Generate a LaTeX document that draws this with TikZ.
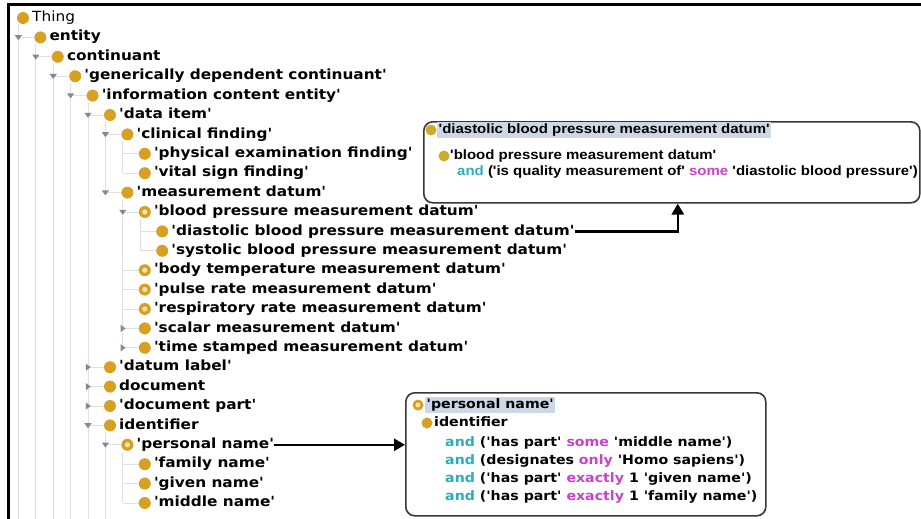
\documentclass[tikz,border=0pt]{standalone}
\usepackage{fontspec}
\setmainfont{DejaVu Sans}
\newfontfamily\treebf[FakeStretch=1.095,Ligatures=TeXOff]{DejaVu Sans Bold}
\newfontfamily\treerm[FakeStretch=1.095,Ligatures=TeXOff]{DejaVu Sans}
\newfontfamily\notebf[FakeStretch=1.09,Ligatures=TeXOff]{DejaVu Sans Bold}
\newfontfamily\noteA[FakeStretch=1.11,Ligatures=TeXOff]{Liberation Sans Bold}
\usetikzlibrary{arrows.meta,calc}

\definecolor{ballgold}{RGB}{216,160,32}
\definecolor{ballolive}{RGB}{204,172,44}
\definecolor{ballpale}{RGB}{246,230,175}
\definecolor{handlecol}{RGB}{125,138,155}
\definecolor{guidecol}{RGB}{224,224,224}
\definecolor{kwand}{RGB}{45,172,190}
\definecolor{kwrestr}{RGB}{198,68,200}
\definecolor{selbg}{RGB}{206,215,230}
\definecolor{boxline}{RGB}{55,55,55}

\tikzset{
  treetext/.style={anchor=west, inner sep=0pt, font=\treebf\fontsize{14}{16}\selectfont,
    text height=10.4pt, text depth=3.2pt},
  notetext/.style={anchor=west, inner sep=0pt, font=\noteA\fontsize{13.5}{15}\selectfont,
    text height=9.8pt, text depth=2.9pt},
  note2text/.style={anchor=west, inner sep=0pt, font=\notebf\fontsize{13}{15}\selectfont,
    text height=9.6pt, text depth=2.9pt},
  guide/.style={draw=guidecol, line width=1pt},
  callout/.style={draw=boxline, line width=1.6pt, fill=white, rounded corners=9pt,
    inner sep=0pt, anchor=north west},
  selected/.style={fill=selbg, inner xsep=1.5pt, inner ysep=2pt},
  arrowline/.style={line width=2.6pt, -{Triangle[length=11pt,width=12pt]}},
}

% one row of the class tree: row, level, handle, icon, label
\newcommand\treeitem[5]{%
  \pgfmathsetmacro\tx{32+17.4*#2}%
  \pgfmathsetmacro\ty{-(18+19.4*#1)}%
  \pgfmathsetmacro\hx{\tx-31}%
  \pgfmathsetmacro\ix{\tx-9}%
  \ifnum#2>0 \draw[guide] (\hx,\ty) -- (\tx-15,\ty);\fi
  #3#4%
  \node[treetext] (n#1) at (\tx,\ty) {#5};
}
\newcommand\hdown{\fill[handlecol] (\hx-3.6,\ty+2.2) -- (\hx+3.6,\ty+2.2) -- (\hx,\ty-2.8) -- cycle;}
\newcommand\hright{\fill[handlecol] (\hx-2.2,\ty+3.6) -- (\hx-2.2,\ty-3.6) -- (\hx+2.8,\ty) -- cycle;}
\newcommand\hnone{}
\newcommand\iplain{\fill[ballgold] (\ix,\ty) circle (6pt);}
\newcommand\idef{\fill[ballgold] (\ix,\ty) circle (6pt); \fill[ballpale] (\ix,\ty) circle (2.6pt);}
\newcommand\rowpos[1]{-(18+19.4*#1)}

\begin{document}
\begin{tikzpicture}[x=1pt,y=1pt]
\useasboundingbox (0,0) rectangle (921,-519);
\fill[white] (0,0) rectangle (921,-519);

% vertical guide lines of the tree
\foreach \lv/\ra/\rb in {0/0/27, 1/1/27, 2/2/27, 3/3/27, 4/4/27, 5/5/9, 6/6/8, 6/9/17, 7/10/12, 5/21/27, 6/22/25}{
  \pgfmathsetmacro\gx{18.4+17.4*\lv}
  \draw[guide] (\gx,{\rowpos{\ra}-7}) -- (\gx,{\rowpos{\rb}});
}

% class hierarchy
\treeitem{0}{0}{\hnone}{\iplain}{{\treerm Thing}}
\treeitem{1}{1}{\hdown}{\iplain}{entity}
\treeitem{2}{2}{\hdown}{\iplain}{continuant}
\treeitem{3}{3}{\hdown}{\iplain}{'generically dependent continuant'}
\treeitem{4}{4}{\hdown}{\iplain}{'information content entity'}
\treeitem{5}{5}{\hdown}{\iplain}{'data item'}
\treeitem{6}{6}{\hdown}{\iplain}{'clinical finding'}
\treeitem{7}{7}{\hnone}{\iplain}{'physical examination finding'}
\treeitem{8}{7}{\hnone}{\iplain}{'vital sign finding'}
\treeitem{9}{6}{\hdown}{\iplain}{'measurement datum'}
\treeitem{10}{7}{\hdown}{\idef}{'blood pressure measurement datum'}
\treeitem{11}{8}{\hnone}{\iplain}{'diastolic blood pressure measurement datum'}
\treeitem{12}{8}{\hnone}{\iplain}{'systolic blood pressure measurement datum'}
\treeitem{13}{7}{\hnone}{\idef}{'body temperature measurement datum'}
\treeitem{14}{7}{\hnone}{\idef}{'pulse rate measurement datum'}
\treeitem{15}{7}{\hnone}{\idef}{'respiratory rate measurement datum'}
\treeitem{16}{7}{\hright}{\iplain}{'scalar measurement datum'}
\treeitem{17}{7}{\hright}{\iplain}{'time stamped measurement datum'}
\treeitem{18}{5}{\hright}{\iplain}{'datum label'}
\treeitem{19}{5}{\hright}{\iplain}{document}
\treeitem{20}{5}{\hright}{\iplain}{'document part'}
\treeitem{21}{5}{\hdown}{\iplain}{identifier}
\treeitem{22}{6}{\hdown}{\idef}{'personal name'}
\treeitem{23}{7}{\hnone}{\iplain}{'family name'}
\treeitem{24}{7}{\hnone}{\iplain}{'given name'}
\treeitem{25}{7}{\hnone}{\iplain}{'middle name'}

% window frame
\draw[line width=3pt] (8.5,-519) -- (8.5,-4.5) -- (921,-4.5);

% definition of the diastolic datum class
\node[callout, minimum width=496pt, minimum height=81pt] (box1) at (423,-121) {};
\fill[ballolive] (431,-130) circle (5.5pt);
\node[notetext, selected] (d1) at (437,-130) {'diastolic blood pressure measurement datum'};
\fill[ballolive] (444,-156) circle (5.5pt);
\node[notetext] (d2) at (450,-156) {'blood pressure measurement datum'};
\node[notetext] (d3) at (457,-172) {\textcolor{kwand}{and} ('is quality measurement of' \textcolor{kwrestr}{some} 'diastolic blood pressure')};

% definition of the personal name class
\node[callout, minimum width=360pt, minimum height=123pt] (box2) at (405,-392) {};
\fill[ballgold] (418,-405) circle (5.5pt);
\fill[ballpale] (418,-405) circle (2.4pt);
\node[note2text, selected] (p1) at (425,-405) {'personal name'};
\fill[ballgold] (427,-423) circle (5.5pt);
\node[note2text] (p2) at (434,-423) {identifier};
\node[note2text] (p3) at (445,-443) {\textcolor{kwand}{and} ('has part' \textcolor{kwrestr}{some} 'middle name')};
\node[note2text] (p4) at (445,-461) {\textcolor{kwand}{and} (designates \textcolor{kwrestr}{only} 'Homo sapiens')};
\node[note2text] (p5) at (445,-479) {\textcolor{kwand}{and} ('has part' \textcolor{kwrestr}{exactly} 1 'given name')};
\node[note2text] (p6) at (445,-497) {\textcolor{kwand}{and} ('has part' \textcolor{kwrestr}{exactly} 1 'family name')};

% pointers from the tree to the definitions
\draw[arrowline] (n11.east) -| ([xshift=6pt]box1.south);
\draw[arrowline] (n22.east) -- (n22.east -| box2.west);
\end{tikzpicture}
\end{document}
